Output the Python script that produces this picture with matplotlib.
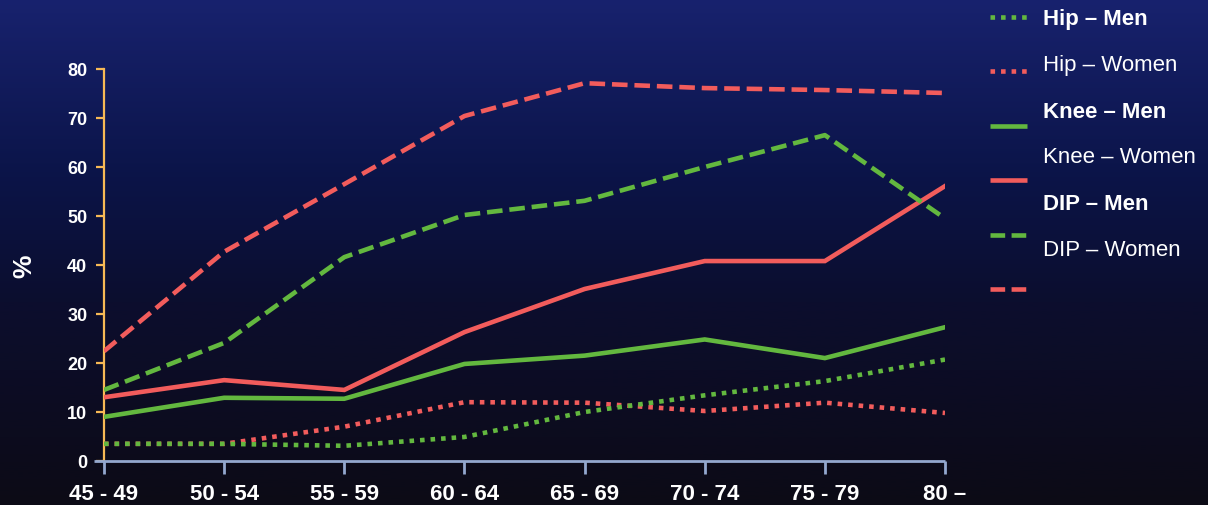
import numpy as np
import matplotlib
matplotlib.use("Agg")
import matplotlib.pyplot as plt
from matplotlib.lines import Line2D
from matplotlib.colors import LinearSegmentedColormap

plt.rcParams['font.family'] = ['Liberation Sans', 'DejaVu Sans']

age_groups = ["45 - 49", "50 - 54", "55 - 59", "60 - 64", "65 - 69", "70 - 74", "75 - 79", "80 \u2013"]

hip_men = [3.5, 3.5, 3.1, 4.9, 10.0, 13.4, 16.3, 20.7]
hip_women = [3.5, 3.5, 7.0, 12.0, 11.9, 10.2, 11.9, 9.8]
knee_men = [9.0, 12.9, 12.7, 19.8, 21.5, 24.8, 21.0, 27.3]
knee_women = [13.0, 16.5, 14.5, 26.3, 35.1, 40.8, 40.8, 56.1]
dip_men = [14.5, 24.1, 41.6, 50.2, 53.1, 60.0, 66.5, 49.5]
dip_women = [22.4, 42.7, 56.5, 70.4, 77.1, 76.1, 75.7, 75.1]

y_ticks = [0, 10, 20, 30, 40, 50, 60, 70, 80]

GREEN = "#63b83f"
RED = "#f25c5c"
AXIS_Y = "#f7b955"
AXIS_X = "#93a8cf"
TEXT = "white"

DOT = (0, (1.0, 1.3))
DASH = (0, (3.4, 1.5))
LW = 3.3

fig = plt.figure(figsize=(12.08, 5.06), dpi=100)

# vertical background gradient: navy at the top fading to near black
bg = fig.add_axes([0, 0, 1, 1], zorder=-10)
grad = np.linspace(0, 1, 256).reshape(-1, 1)
cmap = LinearSegmentedColormap.from_list(
    "bg", [(0.0, "#18226e"), (0.35, "#0b1448"), (0.6, "#0c0e2e"), (1.0, "#0c0b16")])
bg.imshow(grad, aspect="auto", cmap=cmap, extent=[0, 1, 0, 1], origin="upper")
bg.set_axis_off()

ax = fig.add_axes([0.0861, 0.087, 0.6962, 0.7747])
ax.patch.set_alpha(0)
x = np.arange(len(age_groups))

ax.plot(x, hip_women, color=RED, lw=LW, linestyle=DOT, dash_capstyle="butt")
ax.plot(x, hip_men, color=GREEN, lw=LW, linestyle=DOT, dash_capstyle="butt")
ax.plot(x, knee_men, color=GREEN, lw=LW, solid_joinstyle="miter")
ax.plot(x, knee_women, color=RED, lw=LW, solid_joinstyle="miter")
ax.plot(x, dip_men, color=GREEN, lw=LW, linestyle=DASH, dash_capstyle="butt")
ax.plot(x, dip_women, color=RED, lw=LW, linestyle=DASH, dash_capstyle="butt")

ax.set_xlim(0, len(age_groups) - 1)
ax.set_ylim(0, 80)

for s in ("top", "right", "bottom"):
    ax.spines[s].set_visible(False)
ax.spines["left"].set_color(AXIS_Y)
ax.spines["left"].set_linewidth(1.6)
ax.spines["left"].set_zorder(1)

# x axis line extends slightly left of the y axis
ax.plot([-0.012, 1.0], [0, 0], transform=ax.transAxes, color=AXIS_X, lw=2.0,
        clip_on=False, zorder=5, solid_capstyle="butt")

ax.set_yticks(y_ticks)
ax.set_yticklabels([str(v) for v in y_ticks], fontsize=13, fontweight="bold", color=TEXT)
ax.tick_params(axis="y", colors=AXIS_Y, length=6, width=1.6, pad=6)
for lbl in ax.get_yticklabels():
    lbl.set_color(TEXT)

ax.set_xticks(x)
ax.set_xticklabels(age_groups, fontsize=16, fontweight="bold", color=TEXT)
ax.tick_params(axis="x", colors=AXIS_X, length=9, width=2.0, pad=7, direction="out")
for lbl in ax.get_xticklabels():
    lbl.set_color(TEXT)

ax.set_ylabel("%", fontsize=19, fontweight="bold", color=TEXT, labelpad=22)

# legend: line samples and labels placed in figure pixel space
W, H = 1208, 506
def fx(px):
    return px / W
def fy(py):
    return 1 - py / H

samples = [
    (18, GREEN, DOT), (72, RED, DOT), (127, GREEN, "-"),
    (181, RED, "-"), (236, GREEN, (0, (3.2, 1.4))), (290, RED, (0, (3.2, 1.4))),
]
for py, col, ls in samples:
    fig.add_artist(Line2D([fx(990), fx(1027)], [fy(py), fy(py)], color=col, lw=LW,
                          linestyle=ls, dash_capstyle="butt", solid_capstyle="butt"))

labels = [
    ("Hip \u2013 Men", 19, "bold"), ("Hip \u2013 Women", 66, "normal"),
    ("Knee \u2013 Men", 112, "bold"), ("Knee \u2013 Women", 158, "normal"),
    ("DIP \u2013 Men", 204, "bold"), ("DIP \u2013 Women", 250, "normal"),
]
for text, py, weight in labels:
    fig.text(fx(1043), fy(py), text, fontsize=16, fontweight=weight, color=TEXT,
             ha="left", va="center")

fig.savefig("out.png", dpi=100)
